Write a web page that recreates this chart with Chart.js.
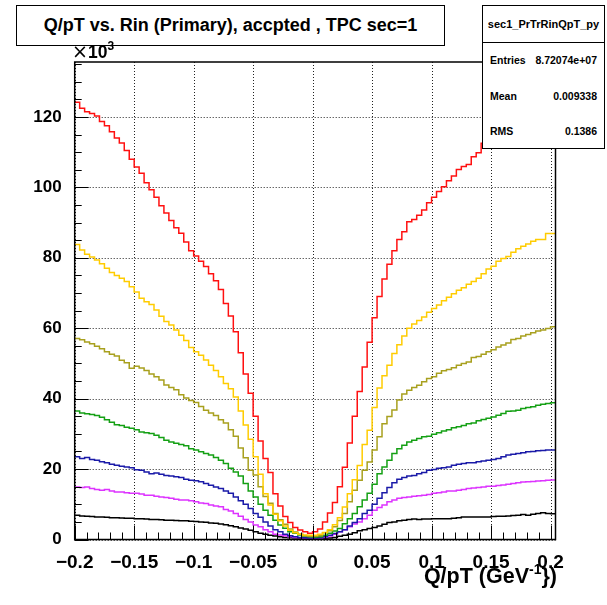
<!DOCTYPE html>
<html>
<head>
<meta charset="utf-8">
<script src="https://cdn.jsdelivr.net/npm/chart.js@4.4.0/dist/chart.umd.min.js"></script>
<style>
  body { margin: 0; background: #fff; }
  #wrap { position: relative; width: 607px; height: 605px; font-family: "Liberation Sans", Arial, sans-serif; font-weight: bold; color: #000; }
  #c { position: absolute; left: 0; top: 0; }
  .box { position: absolute; background: #fff; border: 1.5px solid #000; box-sizing: border-box; }
  #title { left: 16px; top: 5px; width: 429px; height: 41px; font-size: 18px; display: flex; align-items: center; justify-content: center; white-space: nowrap; }
  #stats { left: 482px; top: 5px; width: 123px; height: 144px; font-size: 10.5px; }
  #stats .name { height: 36px; border-bottom: 1px solid #000; display: flex; align-items: center; justify-content: center; font-size: 11px; }
  #stats .row { position: absolute; left: 7px; right: 7px; height: 14px; line-height: 14px; display: flex; justify-content: space-between; }
  #mult { position: absolute; left: 72px; top: 42px; font-size: 17.5px; line-height: 18px; white-space: nowrap; }
  #mult .times { font-family: "DejaVu Sans", sans-serif; font-weight: normal; font-size: 19px; }
  #mult .sup { font-size: 12px; position: relative; top: -8px; }
  #xtitle { position: absolute; right: 50px; top: 565px; font-size: 21.5px; line-height: 22px; white-space: nowrap; }
  #xtitle .sup { font-size: 14px; position: relative; top: -9px; }
</style>
</head>
<body>
<div id="wrap">
  <canvas id="c" width="607" height="605"></canvas>
  <div id="title" class="box">Q/pT vs. Rin (Primary), accpted , TPC sec=1</div>
  <div id="stats" class="box">
    <div class="name">sec1_PrTrRinQpT_py</div>
    <div class="row" style="top:47px"><span>Entries</span><span>8.72074e+07</span></div>
    <div class="row" style="top:83px"><span>Mean</span><span>0.009338</span></div>
    <div class="row" style="top:118px"><span>RMS</span><span>0.1386</span></div>
  </div>
  <div id="mult"><span class="times">&times;</span>10<span class="sup">3</span></div>
  <div id="xtitle">Q/pT (GeV<span class="sup">-1</span>})</div>
</div>
<script>
// histogram binning (97 bins of 1/240 starting at -0.2)
const binLo = -0.2;
const binW = 0.05 / 12;
const nBins = 97;

const xTickValues = [-0.2, -0.15, -0.1, -0.05, 0, 0.05, 0.1, 0.15, 0.2];
const xTickLabels = ["\u22120.2", "\u22120.15", "\u22120.1", "\u22120.05", "0", "0.05", "0.1", "0.15", "0.2"];
const yTickValues = [0, 20, 40, 60, 80, 100, 120];
const yTickLabels = ["0", "20", "40", "60", "80", "100", "120"];

// bin contents, in units of 10^3
const redCounts = [
  124.2, 122.5, 121.5, 121, 120.3, 118.7, 117.5, 115.8, 114, 112.6, 110.5, 108,
  105.8, 104, 101.3, 99.3, 97.2, 94.8, 92.7, 90.6, 88.5, 87, 84.5, 82,
  80.5, 79, 77.5, 75.5, 73.5, 71, 67, 63.5, 59, 53, 47, 41.5,
  35, 28, 23, 19, 13, 9.5, 6.5, 4.8, 3.4, 2.7, 2.2, 1.8,
  2.2, 3, 5, 7.5, 10.5, 15, 20.5, 27.4, 35, 42, 49, 56,
  63, 69, 74, 78.2, 82, 85.2, 87.4, 90.2, 90.9, 92.1, 93.6, 95.6,
  97.2, 98.8, 100.2, 101.9, 103.2, 105.1, 105.9, 106.5, 108.7, 109.8, 112.5, 113.5,
  114.5, 115.5, 116.5, 117.5, 118.5, 119.5, 120.5, 121.5, 122.5, 123.5, 124.5, 125.5, 126.5
];
const yellowCounts = [
  83.8, 82.2, 81, 80.2, 79.4, 78.3, 77, 75.8, 75, 74.2, 73.3, 71.8,
  70.3, 68.5, 67.5, 66.7, 65.2, 63.4, 61.9, 60.9, 59.5, 58, 56.5, 54.5,
  53.3, 52.3, 51, 49.5, 48, 46.2, 44.3, 42.8, 40.5, 36.5, 32.5, 28.5,
  23.5, 18.5, 13, 9.8, 7.2, 5.3, 3.8, 2.6, 1.9, 1.5, 1.3, 1.2,
  1.2, 1.5, 2, 2.8, 4.2, 6.2, 9.2, 13, 17, 21, 27, 31,
  37.5, 43, 46.5, 49.5, 52.8, 55.3, 57.8, 60, 61.2, 62.2, 63.2, 64.5,
  65.6, 66.6, 67.8, 68.8, 69.8, 70.8, 71.5, 72.5, 73.3, 74.2, 75.5, 76.8,
  77.6, 79, 79.8, 80.4, 81.6, 82.6, 83.3, 83.9, 84.7, 85.2, 85.2, 86.9, 86.9
];
const oliveCounts = [
  57.1, 56.7, 56.1, 55.6, 54.9, 54.2, 53.3, 52.6, 52.1, 50.9, 50.2, 48.6,
  49.2, 48.7, 48, 47, 46.2, 45.3, 43.9, 43.2, 42.5, 41.1, 40.2, 39.5,
  38.9, 37.8, 36.7, 35.9, 35.2, 34, 33.1, 31.2, 29.3, 26, 23.2, 19.7,
  18.3, 15, 12.2, 10.3, 7.4, 5.6, 4.3, 3, 2.1, 1.5, 1.1, 0.9,
  0.9, 1.1, 1.9, 2.5, 3.6, 5.4, 7.4, 10.7, 14, 16.8, 19.7, 22,
  25.4, 29.2, 32.9, 34.9, 36.8, 39.6, 41.3, 42.4, 43.2, 43.8, 44.8, 45.7,
  46.2, 47.2, 47.9, 48.3, 48.8, 49.5, 50, 50.4, 51.7, 52, 52.6, 53.3,
  53.9, 54.7, 55.2, 55.8, 56.8, 57.1, 57.8, 58.2, 58.7, 59.2, 59.5, 59.9, 60.4
];
const greenCounts = [
  36.5, 35.9, 35.7, 35.5, 35.2, 34.7, 34, 33.3, 32.6, 32.4, 31.9, 31.6,
  31.2, 30.5, 30.3, 30.1, 29.6, 29, 28.2, 27.7, 27.3, 27, 26.6, 25.8,
  25.4, 24.9, 24.4, 24, 23.3, 22.5, 21.6, 20.2, 19.2, 18, 15.9, 13.8,
  12.1, 10, 8.3, 6.9, 5.5, 4.1, 3.2, 2.2, 1.8, 1.3, 1, 0.8,
  0.7, 0.8, 1.2, 1.8, 2.4, 3.1, 4.5, 5.9, 7.4, 9.3, 11.2, 13.1,
  15.7, 18.7, 20.6, 22.5, 24.4, 25.8, 26.8, 27.7, 28.2, 28.7, 29.2, 29.3,
  29.9, 30.3, 30.8, 31.2, 31.7, 32, 32.4, 32.9, 33.1, 33.7, 34.1, 34.4,
  34.8, 35.3, 35.8, 36.4, 36.5, 36.7, 37.2, 37.5, 37.7, 38.1, 38.4, 38.6, 38.8
];
const blueCounts = [
  23.5, 23, 23.3, 22.7, 22.5, 22.1, 21.8, 21.4, 21.1, 20.8, 20.6, 20.4,
  19.8, 19.7, 19.2, 18.7, 18.9, 18.5, 18.2, 18, 17.8, 17.6, 17.1, 16.8,
  16.7, 16.4, 15.9, 15.4, 14.9, 14.5, 13.8, 13.1, 12.1, 11, 10, 8.8,
  7.4, 6.3, 5, 3.8, 2.8, 2.2, 1.5, 1.1, 0.8, 0.6, 0.5, 0.4,
  0.4, 0.5, 0.8, 1.2, 1.7, 2.2, 2.8, 3.8, 4.8, 5.9, 7.4, 8.3,
  10, 11.7, 13.3, 14.8, 16.1, 17.1, 17.6, 18, 18.2, 18.7, 19, 19.7,
  19.9, 20.2, 20.4, 20.6, 21.1, 21.4, 21.6, 21.8, 21.8, 22.1, 22.3, 22.5,
  22.7, 23, 23.5, 24, 24.2, 24.4, 24.6, 24.9, 25, 25.2, 25.3, 25.4, 25.4
];
const magentaCounts = [
  14.9, 14.8, 14.9, 14.5, 14.2, 14, 14.2, 13.8, 13.5, 13.5, 13.3, 13.1,
  13.1, 12.9, 12.6, 12.6, 12.3, 12.1, 11.9, 11.7, 11.4, 11.2, 11.2, 11,
  10.7, 10.4, 10.2, 9.8, 9.5, 9.3, 8.5, 8.1, 7.4, 6.6, 5.7, 5,
  4.1, 3.6, 2.8, 2.2, 1.5, 1.3, 1.1, 0.8, 0.6, 0.5, 0.4, 0.3,
  0.3, 0.4, 0.6, 1, 1.5, 2.2, 2.8, 3.6, 4.4, 5, 5.9, 6.9,
  8.3, 9.1, 9.8, 10.7, 11.2, 11.7, 11.9, 12.1, 12.3, 12.4, 12.6, 12.8,
  13.1, 13.3, 13.5, 13.8, 13.8, 14, 14.2, 14.5, 14.6, 14.8, 14.9, 15.1,
  15.1, 15.3, 15.5, 15.7, 15.9, 16.1, 16.3, 16.4, 16.5, 16.6, 16.7, 16.8, 16.9
];
const blackCounts = [
  6.9, 6.7, 6.6, 6.5, 6.4, 6.4, 6.3, 6.2, 6.2, 6.1, 6, 6,
  5.9, 5.9, 5.8, 5.7, 5.7, 5.6, 5.5, 5.5, 5.4, 5.3, 5.3, 5.2,
  5.1, 5, 4.9, 4.7, 4.6, 4.4, 4.2, 3.9, 3.6, 3.3, 3, 2.6,
  2.2, 1.8, 1.5, 1.2, 1, 0.8, 0.6, 0.5, 0.4, 0.3, 0.3, 0.2,
  0.2, 0.2, 0.3, 0.4, 0.6, 0.9, 1.2, 1.5, 1.9, 2.5, 2.8, 3.1,
  3.4, 3.8, 4.3, 4.8, 5, 5.3, 5.5, 5.7, 5.8, 5.7, 5.8, 5.8,
  5.9, 5.9, 5.9, 5.9, 6, 6.2, 6.4, 6.4, 6.4, 6.4, 6.4, 6.4,
  6.5, 6.6, 6.6, 6.7, 6.8, 6.9, 7.1, 6.9, 7.2, 7.4, 7.6, 7.4, 7.3
];

const seriesList = [
  { counts: redCounts, color: "#ff1010" },
  { counts: yellowCounts, color: "#ffcc00" },
  { counts: oliveCounts, color: "#a8a01e" },
  { counts: greenCounts, color: "#14a014" },
  { counts: blueCounts, color: "#1a1aa8" },
  { counts: magentaCounts, color: "#dd33ff" },
  { counts: blackCounts, color: "#000000" },
];

const xMin = -0.2;
const xMax = binLo + nBins * binW;
const yMax = 135.6;

// points on the bin low edges, plus the high edge of the last bin
function histPoints(counts) {
  let pts = [];
  counts.forEach((c, i) => {
    pts.push({ x: binLo + i * binW, y: c });
  });
  pts.push({ x: binLo + counts.length * binW, y: counts[counts.length - 1] });
  return pts;
}

// dotted grid, inward ticks and frame, ROOT style
const rootFrame = {
  id: "rootFrame",
  beforeDatasetsDraw(chart) {
    const { ctx, chartArea: a, scales } = chart;
    ctx.save();
    ctx.strokeStyle = "#222";
    ctx.lineWidth = 1;
    ctx.setLineDash([1, 2]);
    xTickValues.forEach((v) => {
      const px = Math.round(scales.x.getPixelForValue(v)) + 0.5;
      ctx.beginPath();
      ctx.moveTo(px, a.top);
      ctx.lineTo(px, a.bottom);
      ctx.stroke();
    });
    yTickValues.forEach((v) => {
      const py = Math.round(scales.y.getPixelForValue(v)) + 0.5;
      ctx.beginPath();
      ctx.moveTo(a.left, py);
      ctx.lineTo(a.right, py);
      ctx.stroke();
    });
    ctx.restore();
  },
  afterDatasetsDraw(chart) {
    const { ctx, chartArea: a, scales } = chart;
    ctx.save();
    ctx.strokeStyle = "#000";
    ctx.lineWidth = 1;
    ctx.beginPath();
    for (let i = 0; i <= 40; i++) {
      const px = Math.round(scales.x.getPixelForValue(-0.2 + i * 0.01)) + 0.5;
      const len = i % 5 === 0 ? 14 : 7;
      ctx.moveTo(px, a.bottom);
      ctx.lineTo(px, a.bottom - len);
    }
    for (let v = 0; v <= yMax; v += 5) {
      const py = Math.round(scales.y.getPixelForValue(v)) + 0.5;
      const len = v % 20 === 0 ? 14 : 7;
      ctx.moveTo(a.left, py);
      ctx.lineTo(a.left + len, py);
    }
    ctx.stroke();
    ctx.lineWidth = 1.5;
    ctx.strokeRect(a.left, a.top, a.right - a.left, a.bottom - a.top);
    ctx.restore();
  },
};

new Chart(document.getElementById("c"), {
  type: "line",
  data: {
    datasets: seriesList.map((s) => ({
      data: histPoints(s.counts),
      borderColor: s.color,
      borderWidth: 1.5,
      pointRadius: 0,
      stepped: true,
      fill: false,
    })),
  },
  options: {
    responsive: false,
    animation: false,
    devicePixelRatio: 1,
    layout: { padding: { left: 0, right: 51.5, top: 62, bottom: 0 } },
    plugins: { legend: { display: false }, tooltip: { enabled: false } },
    scales: {
      x: {
        type: "linear",
        min: xMin,
        max: xMax,
        grid: { display: false },
        border: { display: false },
        afterBuildTicks: (s) => { s.ticks = xTickValues.map((v) => ({ value: v })); },
        afterFit: (s) => { s.height = 65.5; },
        ticks: {
          autoSkip: false,
          maxRotation: 0,
          padding: 3.5,
          color: "#000",
          font: { family: "Liberation Sans", weight: "bold", size: 19 },
          callback: (v, i) => xTickLabels[i],
        },
      },
      y: {
        min: 0,
        max: yMax,
        grid: { display: false },
        border: { display: false },
        afterBuildTicks: (s) => { s.ticks = yTickValues.map((v) => ({ value: v })); },
        afterFit: (s) => { s.width = 74.7; },
        ticks: {
          padding: 5,
          color: "#000",
          font: { family: "Liberation Sans", weight: "bold", size: 17 },
          callback: (v, i) => yTickLabels[i],
        },
      },
    },
  },
  plugins: [rootFrame],
});
</script>
</body>
</html>
